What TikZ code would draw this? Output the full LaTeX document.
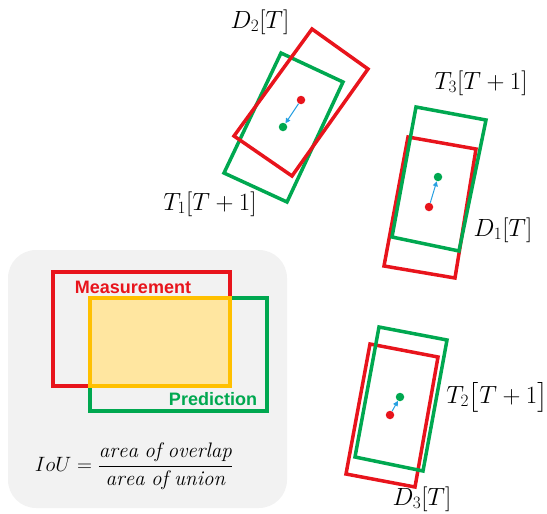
\documentclass[tikz,border=0pt]{standalone}
\usepackage{amsmath}
\usepackage{fontspec}
\setsansfont{Liberation Sans}
\usetikzlibrary{arrows.meta}
\definecolor{boxred}{RGB}{232,20,28}
\definecolor{boxgreen}{RGB}{0,168,80}
\definecolor{ovlborder}{RGB}{255,192,0}
\definecolor{ovlfill}{RGB}{255,230,160}
\definecolor{panelgray}{RGB}{242,242,242}
\definecolor{arrowblue}{RGB}{40,160,225}
\tikzset{
  det/.style={draw=boxred,line width=3.5pt,line join=miter},
  trk/.style={draw=boxgreen,line width=3.5pt,line join=miter},
  reddot/.style={circle,fill=boxred,inner sep=0pt,minimum size=8.5pt},
  greendot/.style={circle,fill=boxgreen,inner sep=0pt,minimum size=8.5pt},
  motion/.style={draw=arrowblue,line width=1pt,-{Triangle[length=5pt,width=5pt]}},
  dlbl/.style={font=\fontsize{27}{30}\selectfont},
  tlbl/.style={font=\fontsize{24}{28}\selectfont},
  boxtxt/.style={font=\sffamily\bfseries\fontsize{18}{20}\selectfont}
}
\begin{document}
\begin{tikzpicture}[x=1pt,y=-1pt]
  \useasboundingbox (0,0) rectangle (547,514);
  % IoU panel
  \fill[panelgray,rounded corners=28pt] (8,250) rectangle (287,508);
  \draw[det] (53,272) rectangle (230,386);
  \draw[trk] (90,298) rectangle (267,411);
  \draw[draw=ovlborder,fill=ovlfill,line width=3.5pt] (90,298) rectangle (230,386);
  \node[boxtxt,text=boxred] (meas) at (133,287) {Measurement};
  \node[boxtxt,text=boxgreen] (pred) at (213,399) {Prediction};
  \node[font=\fontsize{21}{24}\selectfont] (iou) at (134,466)
    {$IoU=\dfrac{\mathit{area\ of\ overlap}}{\mathit{area\ of\ union}}$};
  % pair 1
  \draw[trk] (281,53) -- (343,82) -- (287,202) -- (224,173) -- cycle;
  \draw[det] (312,29) -- (368,69) -- (292,176) -- (234,136) -- cycle;
  \node[reddot] (r1) at (301,100) {};
  \node[greendot] (g1) at (283,127) {};
  \draw[motion] (r1) -- (g1);
  \node[dlbl] (d2) at (260,22) {$D_2[T]$};
  \node[tlbl] (t1) at (210,204) {$T_1[T+1]$};
  % pair 2
  \draw[det] (408,137) -- (476,149) -- (455,278) -- (384,266) -- cycle;
  \draw[trk] (416,107) -- (486,120) -- (459,251) -- (392,237) -- cycle;
  \node[reddot] (r2) at (429,207) {};
  \node[greendot] (g2) at (438,177) {};
  \draw[motion] (r2) -- (g2);
  \node[tlbl] (t3) at (481,83) {$T_3[T+1]$};
  \node[dlbl] (d1) at (503,230) {$D_1[T]$};
  % pair 3
  \draw[det] (370,344) -- (438,357) -- (415,487) -- (346,474) -- cycle;
  \draw[trk] (379,327) -- (447,340) -- (423,471) -- (355,457) -- cycle;
  \node[reddot] (r3) at (390,415) {};
  \node[greendot] (g3) at (400,397) {};
  \draw[motion] (r3) -- (g3);
  \node[tlbl] (t2) at (497,397) {$T_2\big[T+1\big]$};
  \node[dlbl] (d3) at (422,499) {$D_3[T]$};
\end{tikzpicture}
\end{document}
